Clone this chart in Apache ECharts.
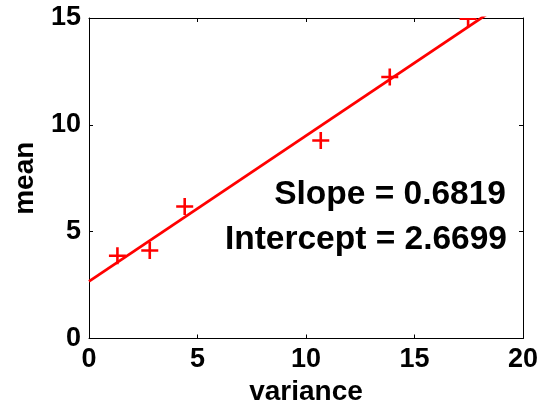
<!DOCTYPE html>
<html>
<head>
<meta charset="utf-8">
<script src="https://cdn.jsdelivr.net/npm/echarts@6/dist/echarts.min.js"></script>
<style>
	html, body {margin: 0; padding: 0; background: #fff;}
	#chart {width: 542px; height: 404px;}
</style>
</head>
<body>
<div id="chart"></div>
<script>
// 数据
var varianceData = [1.31, 2.80, 4.41, 10.68, 13.86, 17.47];	// x
var meanData = [3.87, 4.12, 6.18, 9.27, 12.24, 14.97];		// y
var slope = 0.6819;
var intercept = 2.6699;
var xTicks = [0, 5, 10, 15, 20];
var yTicks = [0, 5, 10, 15];

var font = '"Liberation Sans", Arial, Helvetica, sans-serif';

// 散点 -> [x, y]
var points = varianceData.map(function(v, i) {
	return [v, meanData[i]];
});
// 拟合直线两端（超出部分由坐标系裁掉）
var xMin = xTicks[0], xMax = xTicks[xTicks.length - 1];
var yMin = yTicks[0], yMax = yTicks[yTicks.length - 1];
var fitLine = [
	[xMin, slope * xMin + intercept],
	[xMax, slope * xMax + intercept]
];

var myChart = echarts.init(document.getElementById('chart'));

var tickStyle = {show: true, inside: true, length: 4, lineStyle: {color: '#000', width: 1}};
var lineAxis = {show: true, onZero: false, lineStyle: {color: '#000', width: 1}};
var labelStyle = {color: '#000', fontFamily: font, fontWeight: 'bold', fontSize: 27, margin: 8};
var nameStyle = {color: '#000', fontFamily: font, fontWeight: 'bold', fontSize: 28};

var option = {
	animation: false,
	grid: {left: 89, right: 19, top: 18, bottom: 65.5, containLabel: false, outerBoundsMode: 'none'},
	xAxis: [
		{
			type: 'value', min: xMin, max: xMax, interval: 5,
			name: 'variance', nameLocation: 'middle', nameGap: 34, nameTextStyle: nameStyle,
			axisLine: lineAxis, axisTick: tickStyle, axisLabel: labelStyle,
			splitLine: {show: false}
		},
		{
			type: 'value', min: xMin, max: xMax, interval: 5, position: 'top',
			axisLine: lineAxis, axisTick: tickStyle, axisLabel: {show: false},
			splitLine: {show: false}
		}
	],
	yAxis: [
		{
			type: 'value', min: yMin, max: yMax, interval: 5,
			name: 'mean', nameLocation: 'middle', nameGap: 50, nameTextStyle: nameStyle,
			axisLine: lineAxis, axisTick: tickStyle, axisLabel: labelStyle,
			splitLine: {show: false}
		},
		{
			type: 'value', min: yMin, max: yMax, interval: 5, position: 'right',
			axisLine: lineAxis, axisTick: tickStyle, axisLabel: {show: false},
			splitLine: {show: false}
		}
	],
	series: [
		{
			name: 'fit',
			type: 'line',
			data: fitLine,
			clip: true,
			symbol: 'none',
			lineStyle: {color: '#ff0000', width: 2.8},
			z: 2
		},
		{
			name: 'data',
			type: 'custom',
			clip: true,
			data: points,
			renderItem: function(params, api) {
				var c = api.coord([api.value(0), api.value(1)]);
				var h = 8.5;
				var st = {stroke: '#ff0000', lineWidth: 2.6};
				return {
					type: 'group',
					children: [
						{type: 'line', shape: {x1: c[0] - h, y1: c[1], x2: c[0] + h, y2: c[1]}, style: st},
						{type: 'line', shape: {x1: c[0], y1: c[1] - h, x2: c[0], y2: c[1] + h}, style: st}
					]
				};
			},
			z: 3
		}
	],
	graphic: [
		{
			type: 'text', x: 506, y: 195,
			style: {text: 'Slope = ' + slope.toFixed(4), fill: '#000', font: 'bold 33.5px ' + font, align: 'right', verticalAlign: 'middle'}
		},
		{
			type: 'text', x: 507, y: 240,
			style: {text: 'Intercept = ' + intercept.toFixed(4), fill: '#000', font: 'bold 33.5px ' + font, align: 'right', verticalAlign: 'middle'}
		}
	]
};
myChart.setOption(option);
</script>
</body>
</html>
